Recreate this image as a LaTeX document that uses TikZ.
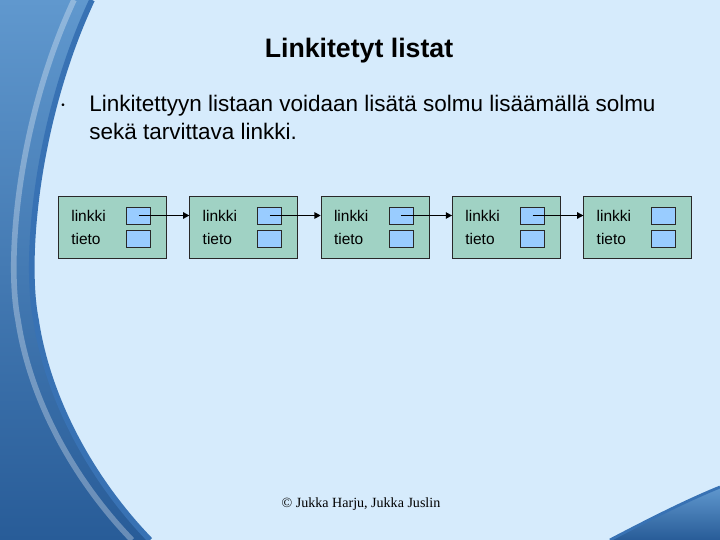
\documentclass[tikz,border=0pt]{standalone}
\usepackage{fontspec}
\setmainfont{Liberation Sans}
\newfontfamily\footfont{Liberation Serif}
\usetikzlibrary{positioning,arrows.meta}
\definecolor{slidecolor}{RGB}{214,235,252}
\definecolor{swooshcolor}{RGB}{96,152,206}
\definecolor{swooshdark}{RGB}{40,92,152}
\definecolor{edgecolor}{RGB}{56,114,180}
\definecolor{nodecolor}{RGB}{160,210,196}
\definecolor{fieldcolor}{RGB}{153,204,255}
\definecolor{bordercolor}{RGB}{40,40,40}
\tikzset{
    listnode/.style={
        rectangle,
        draw=bordercolor,
        line width=0.6pt,
        fill=nodecolor,
        minimum width=2.7cm,
        minimum height=1.55cm,
        inner sep=0pt
    },
    field/.style={
        rectangle,
        draw=bordercolor,
        line width=0.6pt,
        fill=fieldcolor,
        minimum width=0.6cm,
        minimum height=0.425cm,
        inner sep=0pt
    },
    fieldlabel/.style={anchor=west, inner sep=0pt, xshift=0.325cm, font=\fontsize{11}{13}\selectfont},
    arrow/.style={-{Triangle[length=4.5pt,width=4.5pt]}, line width=1.2pt, color=black}
}

\begin{document}
\begin{tikzpicture}[node distance=0.5625cm]
    \useasboundingbox (0,0) rectangle (18,13.5);

    % Background
    \fill[slidecolor] (0,0) rectangle (18,13.5);
    \shade[top color=swooshcolor, bottom color=swooshdark] (0,13.5) -- (2.3,13.5) .. controls (0.9,10.5) and (0.6,7) .. (0.9,5.5) .. controls (1.2,3.5) and (2.3,1.5) .. (3.75,0) -- (0,0) -- cycle;
    \draw[white, opacity=0.3, line width=4pt, xshift=-0.45cm] (2.3,13.5) .. controls (0.9,10.5) and (0.6,7) .. (0.9,5.5) .. controls (1.2,3.5) and (2.3,1.5) .. (3.75,0);
    \draw[edgecolor, line width=4pt] (2.3,13.5) .. controls (0.9,10.5) and (0.6,7) .. (0.9,5.5) .. controls (1.2,3.5) and (2.3,1.5) .. (3.75,0);
    \shade[top color=swooshcolor, bottom color=swooshdark] (15.25,0) .. controls (16.3,0.55) and (17.2,1.0) .. (18,1.325) -- (18,0) -- cycle;
    \draw[edgecolor, line width=2pt] (15.25,0) .. controls (16.3,0.55) and (17.2,1.0) .. (18,1.325);

    % Title and text
    \node[font=\fontsize{19}{23}\selectfont\bfseries, anchor=base] (title) at (8.975,12.05) {Linkitetyt listat};
    \node[font=\fontsize{7}{8}\selectfont] (dot) at (1.575,10.85) {•};
    \node[anchor=north west, align=left, inner sep=0pt, font=\fontsize{16}{19.9}\selectfont] (intro) at (2.225,11.135) {Linkitettyyn listaan voidaan lisätä solmu lisäämällä solmu\\sekä tarvittava linkki.};

    % List nodes
    \node[listnode] (n1) at (2.8125,7.825) {};
    \node[listnode, right=of n1] (n2) {};
    \node[listnode, right=of n2] (n3) {};
    \node[listnode, right=of n3] (n4) {};
    \node[listnode, right=of n4] (n5) {};

    % Fields
    \node[field, below left=0.275cm and 0.4cm of n1.north east] (link1) {};
    \node[field, below=0.15cm of link1] (data1) {};
    \node[field, below left=0.275cm and 0.4cm of n2.north east] (link2) {};
    \node[field, below=0.15cm of link2] (data2) {};
    \node[field, below left=0.275cm and 0.4cm of n3.north east] (link3) {};
    \node[field, below=0.15cm of link3] (data3) {};
    \node[field, below left=0.275cm and 0.4cm of n4.north east] (link4) {};
    \node[field, below=0.15cm of link4] (data4) {};
    \node[field, below left=0.275cm and 0.4cm of n5.north east] (link5) {};
    \node[field, below=0.15cm of link5] (data5) {};

    % Field labels
    \node[fieldlabel] (linktext1) at (n1.west |- link1) {linkki};
    \node[fieldlabel] (datatext1) at (n1.west |- data1) {tieto};
    \node[fieldlabel] (linktext2) at (n2.west |- link2) {linkki};
    \node[fieldlabel] (datatext2) at (n2.west |- data2) {tieto};
    \node[fieldlabel] (linktext3) at (n3.west |- link3) {linkki};
    \node[fieldlabel] (datatext3) at (n3.west |- data3) {tieto};
    \node[fieldlabel] (linktext4) at (n4.west |- link4) {linkki};
    \node[fieldlabel] (datatext4) at (n4.west |- data4) {tieto};
    \node[fieldlabel] (linktext5) at (n5.west |- link5) {linkki};
    \node[fieldlabel] (datatext5) at (n5.west |- data5) {tieto};

    % Arrows
    \draw[arrow] (link1.center) -- (link1.center -| n2.west);
    \draw[arrow] (link2.center) -- (link2.center -| n3.west);
    \draw[arrow] (link3.center) -- (link3.center -| n4.west);
    \draw[arrow] (link4.center) -- (link4.center -| n5.west);

    % Footer
    \node[font=\footfont\fontsize{10}{12}\selectfont, anchor=base] (footer) at (9.025,0.8) {© Jukka Harju, Jukka Juslin};
\end{tikzpicture}
\end{document}
